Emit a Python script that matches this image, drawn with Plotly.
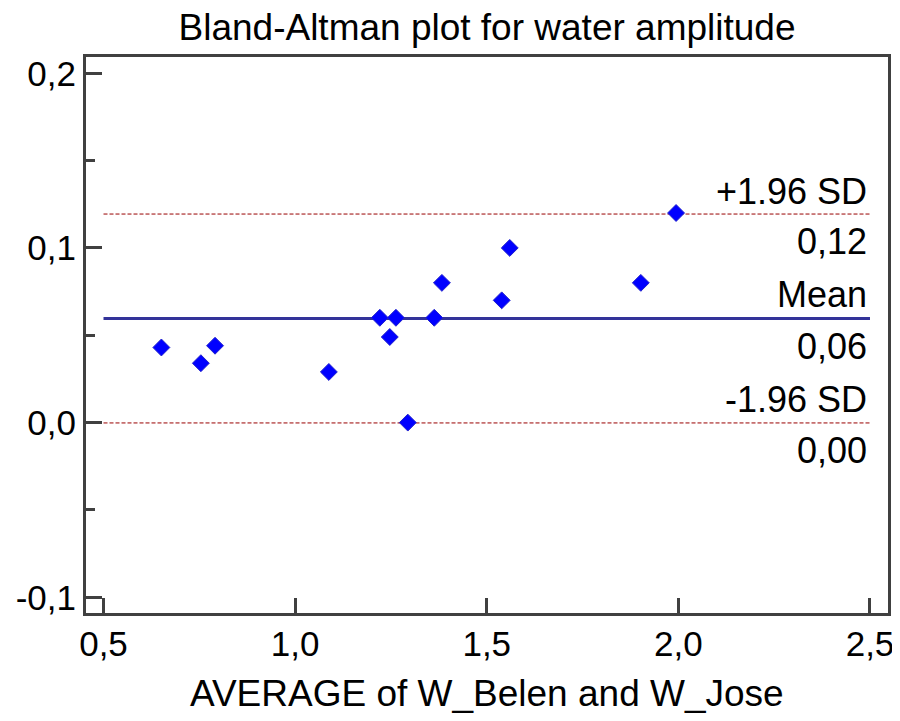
import plotly.graph_objects as go

# Data
avg_values = [0.651, 0.754, 0.791, 1.088, 1.221, 1.247, 1.263, 1.294, 1.363, 1.383, 1.539, 1.560, 1.902, 1.994]
diff_values = [0.043, 0.034, 0.044, 0.029, 0.060, 0.049, 0.060, 0.000, 0.060, 0.080, 0.070, 0.100, 0.080, 0.120]

mean_diff = 0.0596
upper_loa = 0.1194
lower_loa = -0.0002
line_x = [0.5, 2.5]

x_tickvals = [0.5, 1.0, 1.5, 2.0, 2.5]
x_ticktext = ["0,5", "1,0", "1,5", "2,0", "2,5"]
y_tickvals = [-0.1, 0.0, 0.1, 0.2]
y_ticktext = ["-0,1", "0,0", "0,1", "0,2"]

title_text = "Bland-Altman plot for water amplitude"
x_title = "AVERAGE of W_Belen and W_Jose"

FONT = "Liberation Sans, Arial, sans-serif"
AXC = "#404040"

fig = go.Figure()

fig.add_trace(go.Scatter(x=line_x, y=[upper_loa, upper_loa], mode="lines",
                         line=dict(color="#990000", width=1, dash="4px,2px"), hoverinfo="skip"))
fig.add_trace(go.Scatter(x=line_x, y=[lower_loa, lower_loa], mode="lines",
                         line=dict(color="#990000", width=1, dash="4px,2px"), hoverinfo="skip"))
fig.add_trace(go.Scatter(x=line_x, y=[mean_diff, mean_diff], mode="lines",
                         line=dict(color="#333399", width=3), hoverinfo="skip"))
fig.add_trace(go.Scatter(x=avg_values, y=diff_values, mode="markers",
                         marker=dict(symbol="diamond", size=13, color="#0000ff",
                                     line=dict(color="#2222cc", width=1))))

ann_font = dict(family=FONT, size=36, color="black")
labels = [
    ("+1.96 SD", upper_loa, 23),
    ("0,12", upper_loa, -27),
    ("Mean", mean_diff, 24),
    ("0,06", mean_diff, -28),
    ("-1.96 SD", lower_loa, 23),
    ("0,00", lower_loa, -28),
]
for txt, yv, shift in labels:
    fig.add_annotation(x=2.5, y=yv, text=txt, showarrow=False, xanchor="right",
                       yanchor="middle", yshift=shift, xshift=-1, font=ann_font)

# x-axis title as annotation below the plot area
fig.add_annotation(x=0.5, xref="paper", y=0, yref="paper", text=x_title, showarrow=False,
                   xanchor="center", yanchor="middle", yshift=-80,
                   font=dict(family=FONT, size=37, color="black"))

fig.update_layout(
    width=892, height=713,
    margin=dict(l=78, r=12, t=49, b=108),
    paper_bgcolor="white", plot_bgcolor="white",
    showlegend=False,
    font=dict(family=FONT, color="black"),
    title=dict(text=title_text, x=0.537, xanchor="center", y=1 - 19.5 / 713, yref="container",
               yanchor="middle", font=dict(family=FONT, size=37, color="black")),
)

fig.update_xaxes(range=[0.4543, 2.547], tickvals=x_tickvals, ticktext=x_ticktext,
                 ticks="inside", ticklen=15, tickwidth=3, tickcolor=AXC,
                 showline=True, linewidth=3, linecolor=AXC, mirror=True,
                 showgrid=False, zeroline=False, automargin=False,
                 tickfont=dict(family=FONT, size=35, color="black"),
                 ticklabelstandoff=-2)
fig.update_yaxes(range=[-0.109, 0.2093], tickvals=y_tickvals, ticktext=y_ticktext,
                 ticks="inside", ticklen=16, tickwidth=3, tickcolor=AXC,
                 minor=dict(tickvals=[-0.05, 0.05, 0.15], ticks="inside", ticklen=9, tickwidth=3, tickcolor=AXC),
                 showline=True, linewidth=3, linecolor=AXC, mirror=True,
                 showgrid=False, zeroline=False, automargin=False,
                 tickfont=dict(family=FONT, size=35, color="black"),
                 ticklabelstandoff=0)

fig.write_html("out.html")
